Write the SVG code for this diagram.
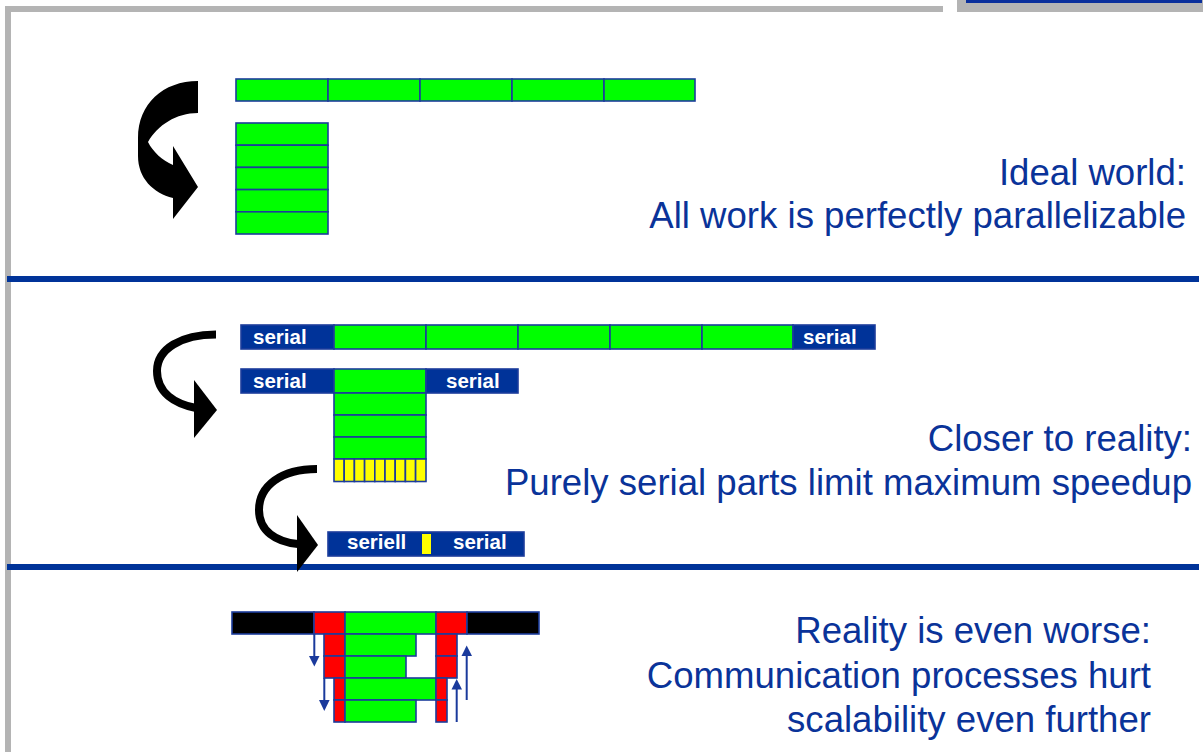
<svg xmlns="http://www.w3.org/2000/svg" width="1203" height="752" viewBox="0 0 1203 752">
  <style>
    .frame { fill: #b4b4b4; }
    .rule { fill: #003399; }
    .cell { stroke: #1c3c9c; stroke-width: 1.6; }
    .g { fill: #00ff00; }
    .y { fill: #ffff00; }
    .r { fill: #ff0000; }
    .k { fill: #000000; }
    .s { fill: #003399; }
    .lbl { font-family: "Liberation Sans", Arial, sans-serif; font-weight: bold; font-size: 20.5px; fill: #ffffff; }
    .cap { font-family: "Liberation Sans", Arial, sans-serif; font-size: 36.6px; fill: #0a3399; text-anchor: end; }
    .curl { fill: none; stroke: #000; stroke-width: 8; }
    .comm { stroke: #1a3a9c; stroke-width: 2; fill: none; }
    .commhead { fill: #1a3a9c; }
  </style>

  <!-- slide frame -->
  <g id="frame">
    <rect class="frame" x="5" y="6" width="938" height="6"/>
    <rect class="frame" x="5" y="6" width="6" height="746"/>
    <rect class="frame" x="957" y="0" width="246" height="12"/>
    <rect fill="#0a2f9c" x="966" y="0" width="236" height="3"/>
    <rect class="rule" x="7" y="276" width="1192" height="6"/>
    <rect class="rule" x="7" y="564" width="1192" height="6"/>
  </g>

  <!-- section 1: ideal world -->
  <g id="ideal-serial">
    <rect class="cell g" x="236" y="79" width="92" height="22"/>
    <rect class="cell g" x="328" y="79" width="92" height="22"/>
    <rect class="cell g" x="420" y="79" width="92" height="22"/>
    <rect class="cell g" x="512" y="79" width="92" height="22"/>
    <rect class="cell g" x="604" y="79" width="91" height="22"/>
  </g>
  <g id="ideal-parallel">
    <rect class="cell g" x="236" y="123" width="92" height="22.2"/>
    <rect class="cell g" x="236" y="145.2" width="92" height="22.2"/>
    <rect class="cell g" x="236" y="167.4" width="92" height="22.2"/>
    <rect class="cell g" x="236" y="189.6" width="92" height="22.2"/>
    <rect class="cell g" x="236" y="211.8" width="92" height="22.2"/>
  </g>
  <g id="ideal-text">
    <text class="cap" x="1186" y="185">Ideal world:</text>
    <text class="cap" x="1186" y="228">All work is perfectly parallelizable</text>
  </g>

  <!-- section 2: closer to reality -->
  <g id="real-serial">
    <rect class="cell s" x="241" y="325" width="93" height="24"/>
    <rect class="cell g" x="334" y="325" width="92" height="24"/>
    <rect class="cell g" x="426" y="325" width="92" height="24"/>
    <rect class="cell g" x="518" y="325" width="92" height="24"/>
    <rect class="cell g" x="610" y="325" width="92" height="24"/>
    <rect class="cell g" x="702" y="325" width="91" height="24"/>
    <rect class="cell s" x="793" y="325" width="82" height="24"/>
    <text class="lbl" x="253" y="344">serial</text>
    <text class="lbl" x="803" y="344">serial</text>
  </g>
  <g id="real-parallel">
    <rect class="cell s" x="241" y="369" width="93" height="24"/>
    <rect class="cell g" x="334" y="369" width="92" height="24"/>
    <rect class="cell s" x="426" y="369" width="92" height="24"/>
    <text class="lbl" x="253" y="388">serial</text>
    <text class="lbl" x="446" y="388">serial</text>
    <rect class="cell g" x="334" y="393" width="92" height="22"/>
    <rect class="cell g" x="334" y="415" width="92" height="22"/>
    <rect class="cell g" x="334" y="437" width="92" height="22"/>
    <g class="cell y">
      <rect x="334" y="459" width="10.2" height="22.5"/>
      <rect x="344.2" y="459" width="10.2" height="22.5"/>
      <rect x="354.4" y="459" width="10.2" height="22.5"/>
      <rect x="364.6" y="459" width="10.2" height="22.5"/>
      <rect x="374.8" y="459" width="10.2" height="22.5"/>
      <rect x="385" y="459" width="10.2" height="22.5"/>
      <rect x="395.2" y="459" width="10.2" height="22.5"/>
      <rect x="405.4" y="459" width="10.2" height="22.5"/>
      <rect x="415.6" y="459" width="10.4" height="22.5"/>
    </g>
  </g>
  <g id="real-limit">
    <rect class="cell s" x="328" y="532" width="196" height="24"/>
    <rect class="y" x="422" y="534" width="9" height="20"/>
    <text class="lbl" x="347" y="549">seriell</text>
    <text class="lbl" x="453" y="549">serial</text>
  </g>
  <g id="real-text">
    <text class="cap" x="1192" y="451">Closer to reality:</text>
    <text class="cap" x="1192" y="495">Purely serial parts limit maximum speedup</text>
  </g>

  <!-- section 3: with communication -->
  <g id="comm-blocks">
    <rect class="cell k" x="232" y="612" width="82" height="22"/>
    <rect class="cell r" x="314" y="612" width="31" height="22"/>
    <rect class="cell g" x="345" y="612" width="91" height="22"/>
    <rect class="cell r" x="436" y="612" width="31" height="22"/>
    <rect class="cell k" x="467" y="612" width="72" height="22"/>

    <rect class="cell r" x="324" y="634" width="21" height="22"/>
    <rect class="cell g" x="345" y="634" width="71" height="22"/>
    <rect class="cell r" x="436" y="634" width="21" height="22"/>

    <rect class="cell r" x="324" y="656" width="21" height="22"/>
    <rect class="cell g" x="345" y="656" width="61" height="22"/>
    <rect class="cell r" x="436" y="656" width="21" height="22"/>

    <rect class="cell r" x="334" y="678" width="11" height="22"/>
    <rect class="cell g" x="345" y="678" width="91" height="22"/>
    <rect class="cell r" x="436" y="678" width="11" height="22"/>

    <rect class="cell r" x="334" y="700" width="11" height="22"/>
    <rect class="cell g" x="345" y="700" width="71" height="22"/>
    <rect class="cell r" x="436" y="700" width="11" height="22"/>
  </g>
  <g id="comm-text">
    <text class="cap" x="1151" y="643">Reality is even worse:</text>
    <text class="cap" x="1151" y="688">Communication processes hurt</text>
    <text class="cap" x="1151" y="732">scalability even further</text>
  </g>

  <!-- connectors -->
  <g id="connectors">
    <!-- broad turning arrow: serial to parallel -->
    <path fill="#000" d="M198,81 C163,81 138,104 138,138 L138,156 C138,178 153,193 173,198 L173,219 L198,187 L173,146 L173,165 C162,160 153,152 148,142 C158,125 176,113 198,113 Z"/>
    <!-- thin turning arrows -->
    <path class="curl" d="M216,334.5 C181,334.5 157,349 157,371 C157,393 175,404 196,408"/>
    <polygon fill="#000" points="194,380 217,410 194,438"/>
    <path class="curl" d="M317,469 C281,469 259,486 259,510 C259,531 276,542 298,544"/>
    <polygon fill="#000" points="297,515 318,545 297,572"/>
    <!-- message transfers -->
    <line class="comm" x1="314.3" y1="634" x2="314.3" y2="657"/>
    <polygon class="commhead" points="309,656 319.5,656 314.3,666.5"/>
    <line class="comm" x1="324.3" y1="678" x2="324.3" y2="701"/>
    <polygon class="commhead" points="319,700 329.6,700 324.3,711"/>
    <line class="comm" x1="466.7" y1="700" x2="466.7" y2="654"/>
    <polygon class="commhead" points="461.5,656 472,656 466.7,645.5"/>
    <line class="comm" x1="456.7" y1="722" x2="456.7" y2="688"/>
    <polygon class="commhead" points="451.5,689.5 462,689.5 456.7,679"/>
  </g>
</svg>
